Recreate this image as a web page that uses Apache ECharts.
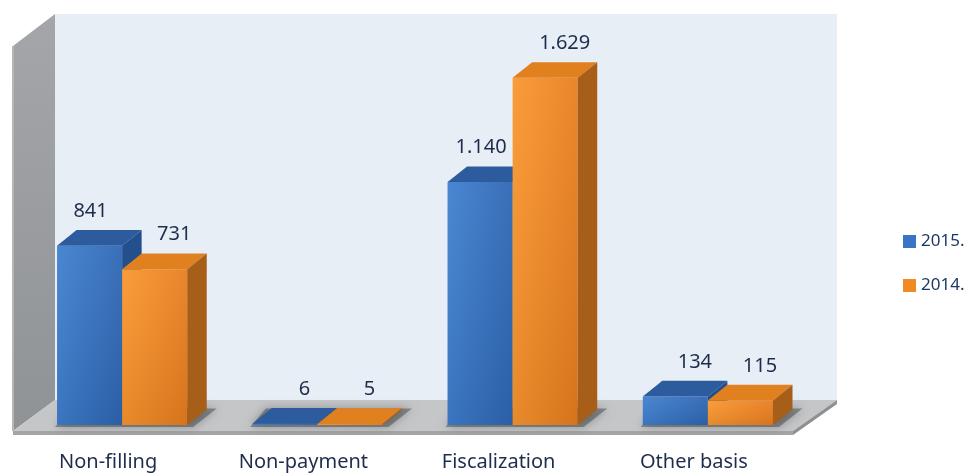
<!DOCTYPE html>
<html>
<head>
<meta charset="utf-8">
<script src="https://cdn.jsdelivr.net/npm/echarts@6/dist/echarts.min.js"></script>
<style>
  html, body { margin: 0; padding: 0; background: #fff; }
  #main { width: 970px; height: 474px; }
</style>
</head>
<body>
<div id="main"></div>
<script>
var categories = ['Non-filling', 'Non-payment', 'Fiscalization', 'Other basis'];
var names = ['2015.', '2014.'];
var values2015 = [841, 6, 1140, 134];
var values2014 = [731, 5, 1629, 115];

var chart = echarts.init(document.getElementById('main'));

// colours for the pseudo 3d faces: [front left, front right, top, side]
var faceColors = [
    ['#3f7fcf', '#2e66b3', '#2c5c9d', '#23508c'],
    ['#fa962e', '#e87d1f', '#e0801f', '#a65e18']
];

function fmt(v) {
    return String(v).replace(/\B(?=(\d{3})+(?!\d))/g, '.');
}

function buildRender(si) {
    return function (params, api) {
        var cat = api.value(0), val = api.value(1);
        var base = api.coord([cat, 0]);
        var top = api.coord([cat, val]);
        var bw = api.size([1, 0])[0];
        var w = bw / 3;
        var dx = bw * 0.1, dy = -bw * 0.08;
        var x0 = base[0] - w + si * w, x1 = x0 + w;
        var yb = base[1], yt = top[1];
        var c = faceColors[si];
        var kids = [];

        // soft shadow on the floor, once per group
        if (si === 0) {
            kids.push({
                type: 'polygon',
                shape: { points: [[x0 - 2, yb + 2], [x0 + 2 * w + 6, yb + 2], [x0 + 2 * w + dx + 10, yb + dy - 1], [x0 + dx - 6, yb + dy - 1]] },
                style: { fill: 'rgba(60,60,60,0.45)', shadowBlur: 10, shadowColor: 'rgba(0,0,0,0.6)' }
            });
        }
        kids.push({
            type: 'rect',
            shape: { x: x0, y: yt, width: w, height: yb - yt },
            style: {
                fill: new echarts.graphic.LinearGradient(0, 0, 1, 0, [
                    { offset: 0, color: c[0] }, { offset: 1, color: c[1] }
                ])
            }
        });
        // slight darkening towards the floor
        kids.push({
            type: 'rect',
            shape: { x: x0, y: yt, width: w, height: yb - yt },
            style: {
                fill: new echarts.graphic.LinearGradient(0, 0, 0, 1, [
                    { offset: 0, color: 'rgba(255,255,255,0.06)' }, { offset: 1, color: 'rgba(0,0,0,0.08)' }
                ])
            }
        });
        kids.push({
            type: 'polygon',
            shape: { points: [[x0, yt], [x1, yt], [x1 + dx, yt + dy], [x0 + dx, yt + dy]] },
            style: { fill: c[2] }
        });
        kids.push({
            type: 'polygon',
            shape: { points: [[x1, yt], [x1 + dx, yt + dy], [x1 + dx, yb + dy], [x1, yb]] },
            style: { fill: c[3] }
        });
        var shift = (si === 1 || yb - yt < 100) ? dx : 1;
        kids.push({
            type: 'text',
            style: {
                text: fmt(val),
                x: x0 + w / 2 + shift,
                y: yt + dy - 19,
                align: 'center',
                verticalAlign: 'middle',
                fontSize: 20,
                fontFamily: 'Noto Sans',
                fill: '#1f2d4d'
            }
        });
        return { type: 'group', children: kids };
    };
}

// walls and floor behind the bars
var wallX = 55, wallTop = 14, floorBackY = 400, wallRight = 837;
var floorFrontX = 13, floorFrontY = 431, floorFrontRight = 793;

var option = {
    backgroundColor: '#ffffff',
    animation: false,
    textStyle: { fontFamily: 'Noto Sans' },
    grid: { left: 24.5, right: 164.5, top: 20, bottom: 49 },
    legend: {
        orient: 'vertical',
        left: 903,
        top: 233,
        padding: 0,
        itemWidth: 13,
        itemHeight: 13,
        itemGap: 27,
        icon: 'rect',
        textStyle: { fontSize: 17, color: '#1f3864' },
        data: names
    },
    xAxis: {
        type: 'category',
        data: categories,
        axisLine: { show: false },
        axisTick: { show: false },
        axisLabel: { fontSize: 20, color: '#1f2d4d', margin: 27, padding: [0, 28, 0, 0] }
    },
    yAxis: { type: 'value', min: 0, max: 1900, show: false, splitLine: { show: false } },
    graphic: [
        {
            type: 'rect', z: 0,
            shape: { x: wallX, y: wallTop, width: wallRight - wallX, height: floorBackY - wallTop },
            style: { fill: '#e8eef6' }
        },
        {
            type: 'polygon', z: 0,
            shape: { points: [[floorFrontX, 46], [wallX, wallTop], [wallX, floorBackY], [floorFrontX, floorFrontY]] },
            style: {
                fill: new echarts.graphic.LinearGradient(0, 0, 0, 1, [
                    { offset: 0, color: '#a4a6a9' }, { offset: 1, color: '#909396' }
                ])
            }
        },
        {
            type: 'rect', z: 0,
            shape: { x: floorFrontX - 1, y: 46, width: 2, height: floorFrontY - 46 },
            style: { fill: '#b4b6b8' }
        },
        {
            type: 'polygon', z: 0,
            shape: { points: [[floorFrontX, floorFrontY], [floorFrontRight, floorFrontY], [wallRight, floorBackY], [wallX, floorBackY]] },
            style: { fill: '#c4c6c8' }
        },
        {
            type: 'rect', z: 0,
            shape: { x: floorFrontX, y: floorFrontY, width: floorFrontRight - floorFrontX, height: 4 },
            style: { fill: '#a3a5a7' }
        },
        {
            type: 'polygon', z: 0,
            shape: { points: [[floorFrontRight, floorFrontY], [wallRight, floorBackY], [wallRight, floorBackY + 4], [floorFrontRight, floorFrontY + 4]] },
            style: { fill: '#8e9092' }
        }
    ],
    series: [
        {
            name: names[0],
            type: 'custom',
            itemStyle: { color: '#3a74c4' },
            renderItem: buildRender(0),
            encode: { x: 0, y: 1 },
            data: values2015.map(function (v, i) { return [i, v]; })
        },
        {
            name: names[1],
            type: 'custom',
            itemStyle: { color: '#ef8a26' },
            renderItem: buildRender(1),
            encode: { x: 0, y: 1 },
            data: values2014.map(function (v, i) { return [i, v]; })
        }
    ]
};

chart.setOption(option);
</script>
</body>
</html>
